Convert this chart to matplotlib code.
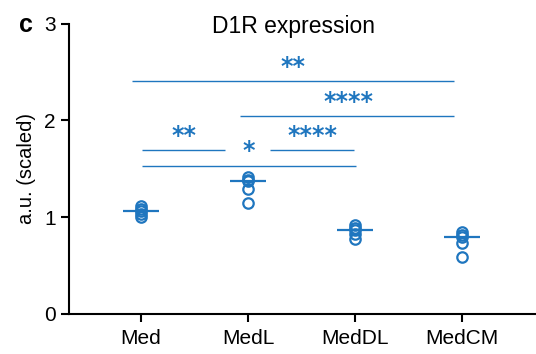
import numpy as np
import matplotlib.pyplot as plt

plt.rcParams['font.family'] = ['Liberation Sans', 'DejaVu Sans']

groups = ['Med', 'MedL', 'MedDL', 'MedCM']
values = [
    [1.12, 1.08, 1.06, 1.03, 1.00],
    [1.42, 1.39, 1.37, 1.29, 1.15],
    [0.92, 0.89, 0.87, 0.83, 0.77],
    [0.85, 0.82, 0.80, 0.73, 0.59],
]
# significance brackets: (x start, x end, y, label, label x, label y)
brackets = [
    (-0.08, 2.92, 2.41, '**', 1.42, 2.55),
    (0.93, 2.92, 2.05, '****', 1.94, 2.19),
    (0.01, 0.79, 1.70, '**', 0.40, 1.84),
    (1.21, 1.99, 1.70, '****', 1.60, 1.84),
    (0.01, 2.01, 1.53, '*', 1.01, 1.68),
]

blue = '#1f76bf'

fig = plt.figure(figsize=(5.36, 3.54), dpi=100)
ax = fig.add_axes([0.129, 0.113, 0.871, 0.82])

for i, v in enumerate(values):
    ax.plot([i] * len(v), v, 'o', mfc='none', mec=blue, mew=1.6, ms=7.5, zorder=3)
    ax.hlines(np.median(v), i - 0.17, i + 0.17, color=blue, lw=1.6, zorder=4)

for x0, x1, y, lab, lx, ly in brackets:
    ax.hlines(y, x0, x1, color=blue, lw=1.0)
    ax.text(lx, ly, lab, color=blue, fontsize=17, fontweight='bold',
            family='DejaVu Sans', ha='center', va='center')

ax.set_xlim(-0.67, 3.69)
ax.set_ylim(0, 3)
ax.set_yticks([0, 1, 2, 3])
ax.set_xticks(range(len(groups)))
ax.set_xticklabels(groups)
ax.tick_params(labelsize=15, width=1.5, length=6, color='black')
ax.tick_params(axis='x', pad=5)
for s in ['top', 'right']:
    ax.spines[s].set_visible(False)
for s in ['left', 'bottom']:
    ax.spines[s].set_linewidth(1.5)
ax.set_ylabel('a.u. (scaled)', fontsize=14.5, labelpad=6)
ax.set_title('D1R expression', fontsize=16.5, x=0.48, y=0.94)
fig.text(0.035, 0.93, 'c', fontsize=18, fontweight='bold', va='center')

fig.savefig('out.png', dpi=100)
